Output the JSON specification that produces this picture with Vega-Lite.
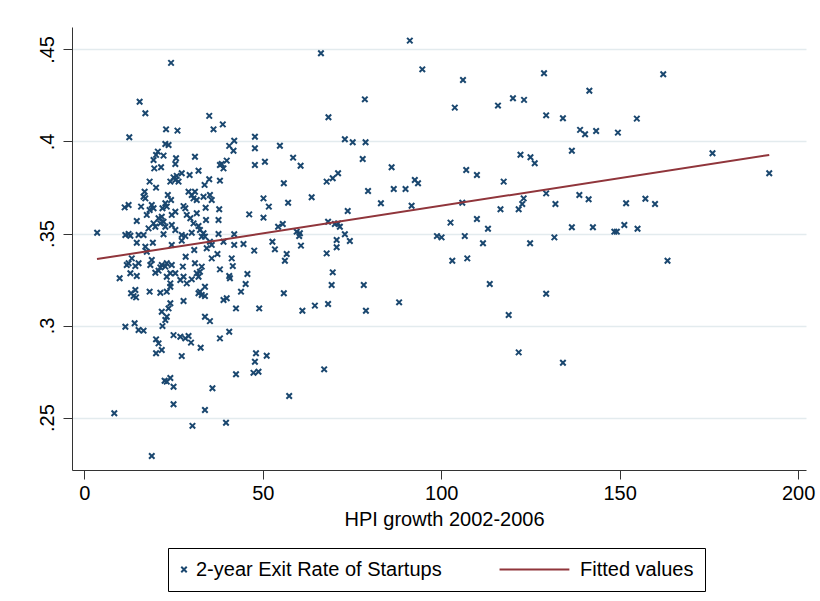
{
  "$schema": "https://vega.github.io/schema/vega-lite/v6.json",
  "width": 734,
  "height": 443,
  "autosize": {"type": "none"},
  "padding": {"left": 72, "top": 27, "right": 14, "bottom": 131},
  "background": "white",
  "config": {
    "view": {"stroke": null},
    "font": "Liberation Sans",
    "axis": {
      "labelFont": "Liberation Sans",
      "titleFont": "Liberation Sans",
      "labelFontSize": 20,
      "titleFontSize": 20,
      "labelColor": "#000",
      "titleColor": "#000",
      "titleFontWeight": "normal",
      "domainColor": "#333",
      "tickColor": "#333",
      "tickSize": 9,
      "domainWidth": 1,
      "tickWidth": 1
    }
  },
  "datasets": {
    "pts": [
      {"hpi":15.5,"exit":0.4216},{"hpi":17.1,"exit":0.4153},{"hpi":22.9,"exit":0.4066},{"hpi":12.6,"exit":0.4023},
      {"hpi":22.7,"exit":0.3986},{"hpi":23.6,"exit":0.3981},{"hpi":20.6,"exit":0.3945},{"hpi":20.1,"exit":0.3927},
      {"hpi":19.4,"exit":0.3899},{"hpi":22.2,"exit":0.3923},{"hpi":19.6,"exit":0.3854},{"hpi":21.5,"exit":0.386},
      {"hpi":18.3,"exit":0.3782},{"hpi":20.1,"exit":0.3749},{"hpi":16.9,"exit":0.3727},{"hpi":16.6,"exit":0.37},
      {"hpi":17.1,"exit":0.3691},{"hpi":23.4,"exit":0.3709},{"hpi":24.3,"exit":0.3682},{"hpi":22.7,"exit":0.3664},
      {"hpi":21.9,"exit":0.3637},{"hpi":23.1,"exit":0.3646},{"hpi":18.9,"exit":0.3655},{"hpi":18.3,"exit":0.3628},
      {"hpi":19.4,"exit":0.3637},{"hpi":15.9,"exit":0.3646},{"hpi":11.3,"exit":0.3642},{"hpi":12.4,"exit":0.3655},
      {"hpi":17.5,"exit":0.3601},{"hpi":20.8,"exit":0.3583},{"hpi":21.7,"exit":0.3591},{"hpi":22.2,"exit":0.3564},
      {"hpi":14.7,"exit":0.3568},{"hpi":19.4,"exit":0.3555},{"hpi":19.9,"exit":0.3537},{"hpi":18.0,"exit":0.3528},
      {"hpi":21.3,"exit":0.3555},{"hpi":22.7,"exit":0.3537},{"hpi":3.6,"exit":0.3504},{"hpi":11.5,"exit":0.3492},
      {"hpi":12.4,"exit":0.3497},{"hpi":12.9,"exit":0.3488},{"hpi":15.2,"exit":0.3492},{"hpi":16.6,"exit":0.3492},
      {"hpi":22.2,"exit":0.3496},{"hpi":14.7,"exit":0.345},{"hpi":17.1,"exit":0.3428},{"hpi":19.2,"exit":0.345},
      {"hpi":17.5,"exit":0.3401},{"hpi":24.5,"exit":0.3438},{"hpi":13.3,"exit":0.3365},{"hpi":12.4,"exit":0.3338},
      {"hpi":11.9,"exit":0.3329},{"hpi":14.3,"exit":0.3323},{"hpi":15.2,"exit":0.3338},{"hpi":18.9,"exit":0.3356},
      {"hpi":18.5,"exit":0.3329},{"hpi":21.7,"exit":0.3329},{"hpi":22.7,"exit":0.332},{"hpi":21.3,"exit":0.3316},
      {"hpi":23.1,"exit":0.3338},{"hpi":19.9,"exit":0.3287},{"hpi":20.8,"exit":0.3298},{"hpi":12.9,"exit":0.3284},
      {"hpi":14.7,"exit":0.3269},{"hpi":9.9,"exit":0.3257},{"hpi":23.1,"exit":0.3265},{"hpi":24.1,"exit":0.3229},
      {"hpi":13.1,"exit":0.3175},{"hpi":14.3,"exit":0.3193},{"hpi":14.5,"exit":0.3153},{"hpi":13.8,"exit":0.316},
      {"hpi":18.3,"exit":0.3184},{"hpi":21.3,"exit":0.3178},{"hpi":23.1,"exit":0.3184},{"hpi":24.1,"exit":0.3121},
      {"hpi":23.6,"exit":0.3093},{"hpi":21.7,"exit":0.3075},{"hpi":23.1,"exit":0.3048},{"hpi":22.7,"exit":0.303},
      {"hpi":21.9,"exit":0.2997},{"hpi":25.0,"exit":0.2948},{"hpi":11.5,"exit":0.2993},{"hpi":14.1,"exit":0.3012},
      {"hpi":15.2,"exit":0.2976},{"hpi":16.6,"exit":0.2972},{"hpi":20.1,"exit":0.2925},{"hpi":20.8,"exit":0.2903},
      {"hpi":20.1,"exit":0.2849},{"hpi":21.7,"exit":0.2867},{"hpi":22.5,"exit":0.27},{"hpi":23.1,"exit":0.2695},
      {"hpi":25.0,"exit":0.2667},{"hpi":25.0,"exit":0.2572},{"hpi":8.4,"exit":0.2523},{"hpi":18.9,"exit":0.2291},
      {"hpi":24.3,"exit":0.4427},
      {"hpi":35.0,"exit":0.4139},{"hpi":26.1,"exit":0.4059},{"hpi":36.2,"exit":0.4066},{"hpi":38.8,"exit":0.4093},
      {"hpi":47.8,"exit":0.4026},{"hpi":42.0,"exit":0.4004},{"hpi":40.6,"exit":0.3976},{"hpi":41.8,"exit":0.395},
      {"hpi":47.8,"exit":0.3963},{"hpi":25.7,"exit":0.3909},{"hpi":25.5,"exit":0.3878},{"hpi":31.0,"exit":0.3917},
      {"hpi":39.9,"exit":0.3896},{"hpi":38.5,"exit":0.3878},{"hpi":39.0,"exit":0.3854},{"hpi":38.0,"exit":0.3872},
      {"hpi":47.8,"exit":0.3872},{"hpi":50.6,"exit":0.389},{"hpi":32.0,"exit":0.3841},{"hpi":27.3,"exit":0.3827},
      {"hpi":25.9,"exit":0.3813},{"hpi":25.0,"exit":0.3805},{"hpi":25.5,"exit":0.3791},{"hpi":26.4,"exit":0.3782},
      {"hpi":24.1,"exit":0.3782},{"hpi":29.5,"exit":0.3818},{"hpi":35.0,"exit":0.3795},{"hpi":33.7,"exit":0.3764},
      {"hpi":38.0,"exit":0.3787},{"hpi":29.2,"exit":0.3727},{"hpi":30.1,"exit":0.3709},{"hpi":31.0,"exit":0.3727},
      {"hpi":30.6,"exit":0.3691},{"hpi":31.5,"exit":0.3682},{"hpi":33.4,"exit":0.37},{"hpi":35.2,"exit":0.3709},
      {"hpi":35.7,"exit":0.3682},{"hpi":27.8,"exit":0.3649},{"hpi":28.3,"exit":0.3637},{"hpi":34.0,"exit":0.364},
      {"hpi":37.8,"exit":0.3632},{"hpi":50.2,"exit":0.3691},{"hpi":25.5,"exit":0.3618},{"hpi":24.5,"exit":0.3601},
      {"hpi":28.7,"exit":0.3601},{"hpi":29.7,"exit":0.3583},{"hpi":31.5,"exit":0.361},{"hpi":46.2,"exit":0.3604},
      {"hpi":34.1,"exit":0.3573},{"hpi":37.6,"exit":0.3573},{"hpi":24.5,"exit":0.3546},{"hpi":25.5,"exit":0.3519},
      {"hpi":30.6,"exit":0.3555},{"hpi":32.0,"exit":0.3541},{"hpi":32.4,"exit":0.3519},{"hpi":27.3,"exit":0.3492},
      {"hpi":28.3,"exit":0.3486},{"hpi":30.1,"exit":0.3504},{"hpi":33.4,"exit":0.3501},{"hpi":32.9,"exit":0.3483},
      {"hpi":33.8,"exit":0.3483},{"hpi":37.6,"exit":0.3497},{"hpi":42.0,"exit":0.3496},
      {"hpi":27.3,"exit":0.3461},{"hpi":30.8,"exit":0.341},{"hpi":34.3,"exit":0.342},{"hpi":35.7,"exit":0.3438},
      {"hpi":35.2,"exit":0.3455},{"hpi":39.0,"exit":0.3455},{"hpi":42.0,"exit":0.3438},{"hpi":44.6,"exit":0.3443},
      {"hpi":47.6,"exit":0.3407},{"hpi":28.4,"exit":0.3374},{"hpi":35.7,"exit":0.3365},{"hpi":37.3,"exit":0.3389},
      {"hpi":41.3,"exit":0.3365},{"hpi":41.6,"exit":0.3323},{"hpi":24.5,"exit":0.3329},{"hpi":24.1,"exit":0.3284},
      {"hpi":27.6,"exit":0.332},{"hpi":31.0,"exit":0.3338},{"hpi":32.9,"exit":0.332},{"hpi":32.4,"exit":0.3292},
      {"hpi":31.5,"exit":0.3284},{"hpi":32.0,"exit":0.3265},{"hpi":38.0,"exit":0.3305},{"hpi":25.5,"exit":0.3284},
      {"hpi":27.8,"exit":0.3265},{"hpi":26.9,"exit":0.3247},{"hpi":28.7,"exit":0.3229},{"hpi":30.1,"exit":0.3251},
      {"hpi":24.1,"exit":0.3211},{"hpi":40.6,"exit":0.3269},{"hpi":40.8,"exit":0.3257},{"hpi":45.7,"exit":0.328},
      {"hpi":45.2,"exit":0.3226},{"hpi":43.9,"exit":0.3184},{"hpi":33.8,"exit":0.3211},{"hpi":32.4,"exit":0.3184},
      {"hpi":32.9,"exit":0.3166},{"hpi":33.8,"exit":0.316},{"hpi":32.0,"exit":0.3175},{"hpi":39.0,"exit":0.3139},
      {"hpi":39.9,"exit":0.3148},{"hpi":27.8,"exit":0.3133},{"hpi":42.5,"exit":0.3093},{"hpi":49.0,"exit":0.3093},
      {"hpi":33.8,"exit":0.3048},{"hpi":35.2,"exit":0.3024},{"hpi":26.9,"exit":0.2939},{"hpi":28.3,"exit":0.293},
      {"hpi":29.2,"exit":0.2943},{"hpi":29.9,"exit":0.2907},{"hpi":32.6,"exit":0.2879},{"hpi":38.0,"exit":0.293},
      {"hpi":40.6,"exit":0.2966},{"hpi":27.3,"exit":0.2834},{"hpi":48.1,"exit":0.2849},{"hpi":47.8,"exit":0.2803},
      {"hpi":47.4,"exit":0.2743},{"hpi":48.8,"exit":0.2749},{"hpi":42.5,"exit":0.2735},{"hpi":24.1,"exit":0.2715},
      {"hpi":35.9,"exit":0.2659},{"hpi":33.8,"exit":0.2541},{"hpi":30.3,"exit":0.2455},{"hpi":39.7,"exit":0.2472},
      {"hpi":91.2,"exit":0.4548},{"hpi":66.3,"exit":0.4479},{"hpi":78.6,"exit":0.4229},{"hpi":68.4,"exit":0.4132},
      {"hpi":54.8,"exit":0.3977},{"hpi":73.0,"exit":0.4012},{"hpi":75.2,"exit":0.3996},{"hpi":78.8,"exit":0.3996},
      {"hpi":58.5,"exit":0.3912},{"hpi":60.6,"exit":0.3868},{"hpi":78.0,"exit":0.3905},{"hpi":86.1,"exit":0.386},
      {"hpi":55.9,"exit":0.3773},{"hpi":71.1,"exit":0.3827},{"hpi":69.6,"exit":0.38},{"hpi":67.9,"exit":0.3782},
      {"hpi":92.6,"exit":0.3791},{"hpi":93.5,"exit":0.3773},{"hpi":79.5,"exit":0.3731},{"hpi":86.7,"exit":0.3742},
      {"hpi":90.0,"exit":0.3742},{"hpi":51.7,"exit":0.3646},{"hpi":57.1,"exit":0.3667},{"hpi":63.7,"exit":0.3697},
      {"hpi":83.1,"exit":0.3664},{"hpi":91.7,"exit":0.3651},{"hpi":50.2,"exit":0.3586},{"hpi":73.8,"exit":0.3622},
      {"hpi":54.3,"exit":0.3537},{"hpi":55.6,"exit":0.3552},{"hpi":68.3,"exit":0.3564},{"hpi":70.2,"exit":0.3552},
      {"hpi":71.6,"exit":0.3537},{"hpi":71.1,"exit":0.3555},{"hpi":59.5,"exit":0.351},{"hpi":60.4,"exit":0.3501},
      {"hpi":60.2,"exit":0.3486},{"hpi":73.0,"exit":0.3496},{"hpi":74.4,"exit":0.3459},{"hpi":70.7,"exit":0.3465},
      {"hpi":52.7,"exit":0.3455},{"hpi":53.4,"exit":0.3414},{"hpi":60.7,"exit":0.3434},{"hpi":70.7,"exit":0.3425},
      {"hpi":56.7,"exit":0.3389},{"hpi":56.2,"exit":0.3352},{"hpi":67.9,"exit":0.3392},{"hpi":69.6,"exit":0.3289},
      {"hpi":69.3,"exit":0.322},{"hpi":78.3,"exit":0.322},{"hpi":55.9,"exit":0.3175},{"hpi":61.1,"exit":0.308},
      {"hpi":64.6,"exit":0.3108},{"hpi":68.3,"exit":0.3117},{"hpi":78.9,"exit":0.308},{"hpi":88.2,"exit":0.3126},
      {"hpi":51.1,"exit":0.2836},{"hpi":67.2,"exit":0.2762},{"hpi":57.4,"exit":0.2617},
      {"hpi":94.7,"exit":0.4392},{"hpi":106.1,"exit":0.4334},{"hpi":128.8,"exit":0.4371},{"hpi":141.5,"exit":0.4276},
      {"hpi":103.8,"exit":0.4184},{"hpi":115.9,"exit":0.4195},{"hpi":120.1,"exit":0.4235},{"hpi":123.2,"exit":0.4226},
      {"hpi":129.4,"exit":0.4142},{"hpi":134.1,"exit":0.4126},{"hpi":138.9,"exit":0.4063},{"hpi":140.3,"exit":0.4039},
      {"hpi":143.4,"exit":0.4057},{"hpi":149.5,"exit":0.4048},{"hpi":122.2,"exit":0.3928},{"hpi":125.0,"exit":0.3914},
      {"hpi":126.2,"exit":0.3882},{"hpi":136.6,"exit":0.395},{"hpi":107.0,"exit":0.3845},{"hpi":110.0,"exit":0.3818},
      {"hpi":117.5,"exit":0.3782},{"hpi":129.4,"exit":0.3718},{"hpi":138.7,"exit":0.3709},{"hpi":141.3,"exit":0.3686},
      {"hpi":132.0,"exit":0.366},{"hpi":105.9,"exit":0.3667},{"hpi":123.1,"exit":0.3691},{"hpi":122.7,"exit":0.366},
      {"hpi":121.7,"exit":0.3632},{"hpi":116.6,"exit":0.3632},{"hpi":102.6,"exit":0.3559},{"hpi":110.0,"exit":0.3579},
      {"hpi":113.1,"exit":0.3526},{"hpi":136.6,"exit":0.3534},{"hpi":142.5,"exit":0.3534},{"hpi":148.5,"exit":0.351},
      {"hpi":149.2,"exit":0.351},{"hpi":98.8,"exit":0.3486},{"hpi":100.1,"exit":0.3479},{"hpi":106.6,"exit":0.3486},
      {"hpi":111.7,"exit":0.3447},{"hpi":124.9,"exit":0.3447},{"hpi":131.7,"exit":0.3479},{"hpi":103.1,"exit":0.3352},
      {"hpi":107.3,"exit":0.3365},{"hpi":113.6,"exit":0.3226},{"hpi":129.4,"exit":0.3173},{"hpi":118.9,"exit":0.3057},
      {"hpi":121.7,"exit":0.2854},{"hpi":134.1,"exit":0.2798},
      {"hpi":162.2,"exit":0.4365},{"hpi":154.8,"exit":0.4124},{"hpi":176.0,"exit":0.3936},{"hpi":191.9,"exit":0.3827},
      {"hpi":151.8,"exit":0.3664},{"hpi":157.2,"exit":0.3689},{"hpi":159.9,"exit":0.366},{"hpi":151.3,"exit":0.3546},
      {"hpi":155.0,"exit":0.3526},{"hpi":163.4,"exit":0.3352}
    ],
    "fit": [
      {"hpi": 3.55, "fit": 0.3361},
      {"hpi": 191.9, "fit": 0.3927}
    ]
  },
  "layer": [
    {
      "data": {"name": "pts"},
      "mark": {"type": "point", "filled": false, "strokeWidth": 2, "size": 30, "opacity": 1},
      "encoding": {
        "x": {
          "field": "hpi", "type": "quantitative",
          "scale": {"domain": [-3.45, 202.2], "nice": false, "zero": false},
          "axis": {"values": [0, 50, 100, 150, 200], "title": "HPI growth 2002-2006", "grid": false, "labelPadding": 4, "titlePadding": 6, "labelFlush": false, "titleX": 372}
        },
        "y": {
          "field": "exit", "type": "quantitative",
          "scale": {"domain": [0.2215, 0.4622], "nice": false, "zero": false},
          "axis": {"values": [0.25, 0.3, 0.35, 0.4, 0.45], "title": null, "grid": true, "gridColor": "#e3ebee", "gridWidth": 1.5, "labelAngle": -90, "labelAlign": "center", "labelBaseline": "alphabetic", "labelPadding": 10, "labelFlush": false, "labelExpr": "substring(format(datum.value, '.2~f'), 1)"}
        },
        "color": {
          "datum": "2-year Exit Rate of Startups", "type": "nominal",
          "scale": {"domain": ["2-year Exit Rate of Startups", "Fitted values"], "range": ["#1a476f", "#90353b"]},
          "legend": {"title": null, "orient": "none", "legendX": 96, "legendY": 521, "direction": "horizontal", "padding": 11.5, "strokeColor": "#000", "fillColor": "white", "labelFontSize": 20, "labelFont": "Liberation Sans", "labelColor": "#000", "labelLimit": 0, "labelOffset": 2, "symbolOffset": -5.5, "columnPadding": 53, "symbolStrokeWidth": 2, "symbolSize": 30}
        },
        "shape": {
          "datum": "2-year Exit Rate of Startups", "type": "nominal",
          "scale": {"domain": ["2-year Exit Rate of Startups", "Fitted values"], "range": ["M-1,-1L1,1M1,-1L-1,1", "M-25,0L0.5,0"]},
          "legend": {"title": null, "orient": "none", "legendX": 96, "legendY": 521, "direction": "horizontal", "padding": 11.5, "strokeColor": "#000", "fillColor": "white", "labelFontSize": 20, "labelFont": "Liberation Sans", "labelColor": "#000", "labelLimit": 0, "labelOffset": 2, "symbolOffset": -5.5, "columnPadding": 53, "symbolStrokeWidth": 2, "symbolSize": 30}
        }
      }
    },
    {
      "data": {"name": "fit"},
      "mark": {"type": "line", "strokeWidth": 2},
      "encoding": {
        "x": {"field": "hpi", "type": "quantitative"},
        "y": {"field": "fit", "type": "quantitative"},
        "color": {"datum": "Fitted values", "type": "nominal"}
      }
    }
  ]
}
